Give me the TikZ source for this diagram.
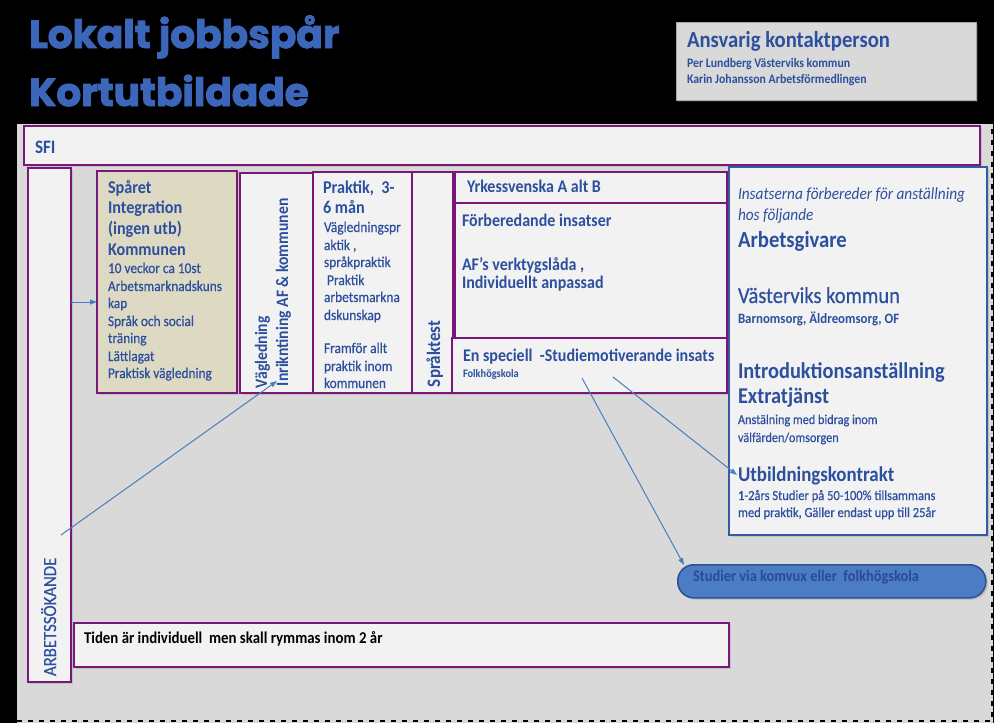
\documentclass[tikz,border=0pt]{standalone}
\usepackage{fontspec}
\setmainfont{Carlito}[FakeStretch=0.9, UprightFeatures={FakeBold=0.5}]
\newfontfamily\titlefont{Poppins}[BoldFeatures={FakeBold=2.5}]
\usetikzlibrary{shadows,arrows.meta}
\definecolor{panelgray}{RGB}{217,217,217}
\definecolor{boxfill}{RGB}{242,242,242}
\definecolor{boxpurple}{RGB}{122,24,122}
\definecolor{tanfill}{RGB}{221,217,195}
\definecolor{textblue}{RGB}{44,80,158}
\definecolor{titleblue}{RGB}{60,102,186}
\definecolor{arrowblue}{RGB}{74,126,187}
\definecolor{rightblue}{RGB}{52,92,164}
\definecolor{pillfill}{RGB}{76,124,196}
\definecolor{pilldraw}{RGB}{46,84,150}
\definecolor{pilltext}{RGB}{40,76,150}
\newcommand\fsz[1]{\fontsize{#1}{#1}\selectfont}
\begin{document}
\begin{tikzpicture}[x=1pt,y=-1pt,
  shad/.style={drop shadow={shadow xshift=2pt, shadow yshift=-2pt, opacity=0.25}},
  pbox/.style={draw=boxpurple, line width=1.8pt, fill=boxfill, anchor=north west, inner sep=0pt, outer sep=0pt, shad},
  lbl/.style={anchor=base west, inner sep=0pt, outer sep=0pt, text=textblue},
  vlbl/.style={lbl, rotate=90},
  arr/.style={draw=arrowblue, line width=1pt, -{Triangle[length=7pt,width=5pt]}}]
\fill[black] (0,0) rectangle (994,723);
\useasboundingbox (0,0) rectangle (994,723);
% panel
\fill[panelgray] (17,124) rectangle (993,723);
\draw[black, line width=2.2pt, dash pattern=on 5pt off 6pt] (17,721) -- (992,721) -- (992,124);

% title
\node[anchor=base west, inner sep=0pt, text=titleblue, font=\titlefont\bfseries\fsz{39}] (t1) at (29,48) {Lokalt jobbspår};
\node[anchor=base west, inner sep=0pt, text=titleblue, font=\titlefont\bfseries\fsz{39}] (t2) at (29,106) {Kortutbildade};

% contact box
\node[anchor=north west, fill=panelgray, draw=gray!70, line width=0.6pt, minimum width=300pt, minimum height=78pt, inner sep=0pt, shad] (contact) at (676,22) {};
\node[lbl, font=\bfseries\fsz{23}] (c1) at (687,47) {Ansvarig kontaktperson};
\node[lbl, font=\bfseries\fsz{13.1}] (c2) at (687,67) {Per Lundberg Västerviks kommun};
\node[lbl, font=\bfseries\fsz{13.1}] (c3) at (687,83) {Karin Johansson Arbetsförmedlingen};

% boxes
\node[pbox, minimum width=956pt, minimum height=39pt] (sfi) at (24,126) {};
\node[pbox, minimum width=43pt, minimum height=514pt] (arb) at (28,168) {};
\node[pbox, fill=tanfill, minimum width=140pt, minimum height=222pt] (sparet) at (97,171) {};
\node[pbox, minimum width=73pt, minimum height=220pt] (vag) at (240,173) {};
\node[pbox, minimum width=99pt, minimum height=221pt] (prak) at (313,172) {};
\node[pbox, minimum width=41pt, minimum height=221pt] (sprak) at (412,172) {};
\node[pbox, minimum width=272pt, minimum height=31pt] (yrk) at (455,172) {};
\node[pbox, minimum width=272pt, minimum height=135pt] (forb) at (455,203) {};
\node[pbox, minimum width=275pt, minimum height=55pt] (ensp) at (452,338) {};
\node[pbox, draw=rightblue, line width=1.6pt, minimum width=258pt, minimum height=368pt] (right) at (729,167) {};
\node[anchor=north west, fill=pillfill, draw=pilldraw, line width=1.6pt, rounded corners=16pt, minimum width=308pt, minimum height=33pt, inner sep=0pt, shad] (pill) at (677,564) {};
\node[pbox, minimum width=655pt, minimum height=44pt] (tiden) at (74,623) {};

% texts
\node[lbl, font=\bfseries\fsz{19}] (sfit) at (35,153) {SFI};
\node[vlbl, font=\fsz{18.6}] (arbt) at (56,676) {ARBETSSÖKANDE};

\foreach \yy/\tt [count=\i] in {193/Spåret, 213/Integration, 234/{(ingen utb)}, 255/Kommunen}
  \node[lbl, font=\bfseries\fsz{18}] (sph\i) at (108,\yy) {\tt};
\foreach \yy/\tt [count=\i] in {273/{10 veckor ca 10st}, 291/Arbetsmarknadskuns, 308/kap, 326/{Språk och social}, 343/träning, 361/Lättlagat, 378/{Praktisk vägledning}}
  \node[lbl, font=\fsz{14.8}] (spb\i) at (108,\yy) {\tt};

\node[vlbl, font=\bfseries\fsz{17.4}] (vag1) at (267,388) {Vägledning};
\node[vlbl, font=\bfseries\fsz{17.4}] (vag2) at (288,386) {Inrikntining AF \& kommunen};

\node[lbl, font=\bfseries\fsz{18}] (pr1) at (323,193) {Praktik,\ \ 3-};
\node[lbl, font=\bfseries\fsz{18}] (pr2) at (323,213) {6 mån};
\foreach \yy/\tt [count=\i] in {232/Vägledningspr, 250/{aktik ,}, 267/språkpraktik, 285/{\ Praktik}, 302/arbetsmarkna, 320/dskunskap, 353/{Framför allt}, 371/{praktik inom}, 388/kommunen}
  \node[lbl, font=\fsz{14.9}] (prb\i) at (324,\yy) {\tt};

\node[vlbl, font=\bfseries\fsz{18.9}] (spt) at (440,387) {Språktest};

\node[lbl, font=\bfseries\fsz{17.8}] (yrkt) at (467,192) {Yrkessvenska A alt B};
\node[lbl, font=\bfseries\fsz{17.8}] (fb1) at (462,226) {Förberedande insatser};
\node[lbl, font=\bfseries\fsz{17.8}] (fb2) at (462,270) {AF’s verktygslåda ,};
\node[lbl, font=\bfseries\fsz{17.8}] (fb3) at (462,288) {Individuellt anpassad};
\node[lbl, font=\bfseries\fsz{17.8}] (es1) at (463,361) {En speciell\ \ -Studiemotiverande insats};
\node[lbl, font=\bfseries\fsz{11.5}] (es2) at (463,377) {Folkhögskola};

\node[lbl, font=\itshape\fsz{17}] (r1) at (738,199) {Insatserna förbereder för anställning};
\node[lbl, font=\itshape\fsz{17}] (r2) at (738,220) {hos följande};
\node[lbl, font=\bfseries\fsz{23}] (r3) at (738,247) {Arbetsgivare};
\node[lbl, font=\fsz{22.8}] (r4) at (738,303) {Västerviks kommun};
\node[lbl, font=\bfseries\fsz{14.3}] (r5) at (738,323) {Barnomsorg, Äldreomsorg, OF};
\node[lbl, font=\bfseries\fsz{22.6}] (r6) at (738,378) {Introduktionsanställning};
\node[lbl, font=\bfseries\fsz{22.6}] (r7) at (738,403) {Extratjänst};
\node[lbl, font=\fsz{13.6}] (r8) at (738,424) {Anstälning med bidrag inom};
\node[lbl, font=\fsz{13.6}] (r9) at (738,442) {välfärden/omsorgen};
\node[lbl, font=\bfseries\fsz{21}] (r10) at (738,481) {Utbildningskontrakt};
\node[lbl, font=\fsz{13.9}] (r11) at (738,500) {1-2års Studier på 50-100\% tillsammans};
\node[lbl, font=\fsz{13.9}] (r12) at (738,517) {med praktik, Gäller endast upp till 25år};

\node[lbl, text=pilltext, font=\bfseries\fsz{16}] (pillt) at (693,581) {Studier via komvux eller\ \ folkhögskola};
\node[lbl, text=black, font=\bfseries\fsz{16.5}] (tident) at (84,643) {Tiden är individuell\ \ men skall rymmas inom 2 år};

% connectors
\coordinate (a2s) at (61,535);
\coordinate (a2e) at (277,381);
\coordinate (a3s) at (582,378);
\coordinate (a3e) at (684,565);
\coordinate (a4s) at (613,377);
\coordinate (a4e) at (737,475);
\draw[arr] (arb.east |- {(0,302)}) -- (sparet.west |- {(0,302)});
\draw[arr] (a2s) -- (a2e);
\draw[arr] (a3s) -- (a3e);
\draw[arr] (a4s) -- (a4e);
\end{tikzpicture}
\end{document}
